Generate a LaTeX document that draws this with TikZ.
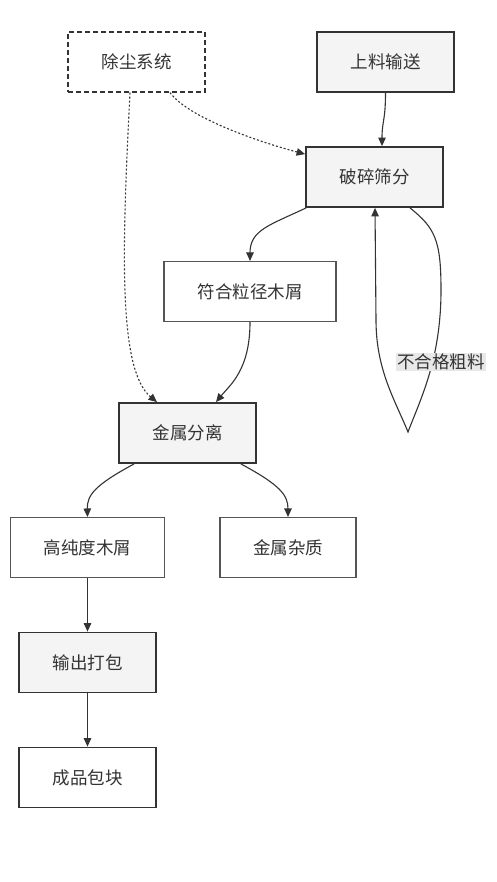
\documentclass[tikz,border=0pt]{standalone}
\usepackage{fontspec}
\newfontfamily\cjk{Noto Sans CJK SC}
\usetikzlibrary{arrows.meta,calc}
\definecolor{ink}{HTML}{333333}
\definecolor{boxfill}{HTML}{F4F4F4}
\definecolor{thinline}{HTML}{555555}
\definecolor{lblfill}{HTML}{E8E8E8}
\begin{document}
\begin{tikzpicture}[x=1pt,y=-1pt,
  base/.style={rectangle, minimum width=137pt, minimum height=60pt, inner sep=0pt, text=ink,
    font=\cjk\fontsize{17.5}{20}\selectfont},
  procbox/.style={base, draw=ink, line width=1.8pt, fill=boxfill},
  endbox/.style={base, draw=ink, line width=1.8pt, fill=white},
  outbox/.style={base, draw=thinline, line width=1.1pt, fill=white},
  dustbox/.style={base, draw=ink, line width=1.2pt, dash pattern=on 5pt off 3pt, fill=white},
  flow/.style={draw=ink, line width=1.1pt, -{Triangle[length=8.5pt,width=7.5pt]}},
  dotflow/.style={flow, dash pattern=on 2pt off 2pt},
  lbl/.style={fill=lblfill, text=ink, inner sep=1pt, font=\cjk\fontsize{17.5}{20}\selectfont}
]
\useasboundingbox (0,0) rectangle (497,882);
\fill[white] (0,0) rectangle (497,882);

\node[dustbox] (dust) at (136.5,62) {除尘系统};
\node[procbox] (feed) at (385.5,62) {上料输送};
\node[procbox] (crush) at (374.5,177) {破碎筛分};
\node[outbox, minimum width=172pt] (fine) at (250,291.5) {符合粒径木屑};
\node[procbox] (metal) at (187.5,433) {金属分离};
\node[outbox, minimum width=154pt] (pure) at (87.5,547.5) {高纯度木屑};
\node[outbox, minimum width=136pt] (junk) at (288,547.5) {金属杂质};
\node[procbox] (pack) at (87.5,662.5) {输出打包};
\node[endbox] (prod) at (87.5,777.5) {成品包块};

% feed -> crush
\draw[flow] (feed.south) .. controls ($(feed.south)+(0,28)$) and ($(crush.north)+(7.5,-25)$) .. ($(crush.north)+(7.5,0)$);
% dust -> crush (dotted)
\draw[dotflow] ($(dust.south)+(33.5,0)$) .. controls (190,120) and (270,145) .. ($(crush.north west)+(0,8)$);
% dust -> metal (dotted)
\draw[dotflow] ($(dust.south)+(-6.5,0)$) .. controls (122,250) and (118,370) .. ($(metal.north)+(-30.5,0)$);
% crush -> fine
\draw[flow] ($(crush.south west)+(1,0)$) .. controls (270,225) and (250,230) .. (fine.north);
% fine -> metal
\draw[flow] (fine.south) .. controls (250,370) and (230,385) .. ($(metal.north)+(28.5,0)$);
% crush self loop
\coordinate (tip) at (408,432);
\draw[flow] ($(crush.south)+(35.5,0)$) .. controls (435,228) and (441,240) .. (441,290)
   .. controls (441,360) and (420,400) .. (tip)
   .. controls (395,400) and (376,370) .. (376,320) -- ($(crush.south)+(0.5,0)$);
\node[lbl] (rej) at (441,362) {不合格粗料};
% metal -> pure / junk
\draw[flow] ($(metal.south west)+(16,0)$) .. controls (95,485) and (87,495) .. (pure.north);
\draw[flow] ($(metal.south east)+(-16,0)$) .. controls (280,485) and (288,495) .. (junk.north);
% pure -> pack -> prod
\draw[flow] (pure.south) -- (pack.north);
\draw[flow] (pack.south) -- (prod.north);
\end{tikzpicture}
\end{document}
